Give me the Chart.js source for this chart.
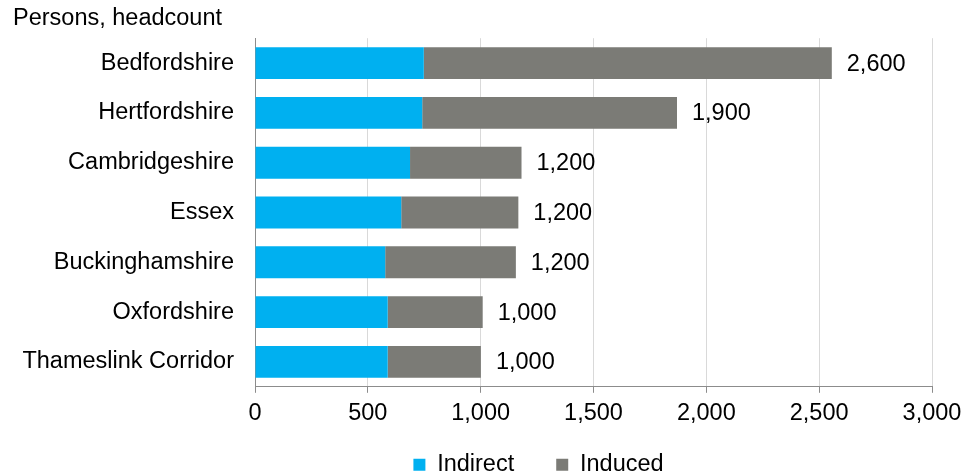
<!DOCTYPE html>
<html>
<head>
<meta charset="utf-8">
<script src="https://cdn.jsdelivr.net/npm/chart.js@4"></script>
<style>
  html, body { margin: 0; padding: 0; background: #fff; }
  #wrap { width: 975px; height: 476px; position: relative; }
</style>
</head>
<body>
<div id="wrap"><canvas id="c" width="975" height="476"></canvas></div>
<script>
const categories = ["Bedfordshire", "Hertfordshire", "Cambridgeshire", "Essex", "Buckinghamshire", "Oxfordshire", "Thameslink Corridor"];
const indirect = [748, 741, 687, 648, 577, 588, 588];
const induced = [1808, 1129, 494, 519, 579, 421, 413];
const totalLabels = ["2,600", "1,900", "1,200", "1,200", "1,200", "1,000", "1,000"];
const xTicks = [0, 500, 1000, 1500, 2000, 2500, 3000];

const FONT = "'Liberation Sans', Arial, sans-serif";
const FS = 23.5;

const totalsPlugin = {
  id: 'totals',
  afterDatasetsDraw(chart) {
    const ctx = chart.ctx;
    const meta = chart.getDatasetMeta(chart.data.datasets.length - 1);
    ctx.save();
    ctx.font = FS + "px " + FONT;
    ctx.fillStyle = "#000";
    ctx.textAlign = "left";
    ctx.textBaseline = "middle";
    meta.data.forEach((bar, i) => {
      ctx.fillText(totalLabels[i], bar.x + 15, bar.y + 1);
    });
    ctx.restore();
  }
};

const legendShift = {
  id: 'legendShift',
  afterLayout(chart) {
    const lg = chart.legend;
    if (lg) {
      lg.left += 66; lg.right += 66;
      lg.top -= 24;
    }
  }
};

new Chart(document.getElementById('c'), {
  type: 'bar',
  data: {
    labels: categories,
    datasets: [
      { label: 'Indirect', data: indirect, backgroundColor: '#00B0F0', borderWidth: 0 },
      { label: 'Induced', data: induced, backgroundColor: '#7B7B76', borderWidth: 0 }
    ]
  },
  options: {
    indexAxis: 'y',
    responsive: false,
    animation: false,
    devicePixelRatio: 1,
    layout: { padding: { left: 13, right: 43, top: 4, bottom: -6 } },
    datasets: { bar: { barPercentage: 0.64, categoryPercentage: 1.0 } },
    scales: {
      x: {
        stacked: true,
        min: 0, max: 3000,
        afterBuildTicks(axis) { axis.ticks = xTicks.map(v => ({ value: v })); },
        ticks: {
          font: { family: FONT, size: FS },
          color: '#000',
          padding: 7,
          maxRotation: 0,
          callback: v => Number(v).toLocaleString('en-US')
        },
        grid: { color: '#D9D9D9', lineWidth: 1, tickLength: 6, tickColor: '#8C8C8C' },
        border: { color: '#8C8C8C', width: 1 }
      },
      y: {
        stacked: true,
        afterFit(axis) { axis.width = 242; },
        ticks: { font: { family: FONT, size: FS }, color: '#000', padding: 21 },
        grid: { display: false, drawTicks: false },
        border: { color: '#8C8C8C', width: 1 }
      }
    },
    plugins: {
      title: {
        display: true,
        text: 'Persons, headcount',
        align: 'start',
        font: { family: FONT, size: FS, weight: 'normal' },
        color: '#000',
        padding: { top: 0, bottom: 6 }
      },
      legend: {
        position: 'bottom',
        maxHeight: 47,
        labels: {
          font: { family: FONT, size: FS },
          color: '#000',
          boxWidth: 12, boxHeight: 12,
          padding: 42
        }
      },
      tooltip: { enabled: false }
    }
  },
  plugins: [totalsPlugin, legendShift]
});
</script>
</body>
</html>
